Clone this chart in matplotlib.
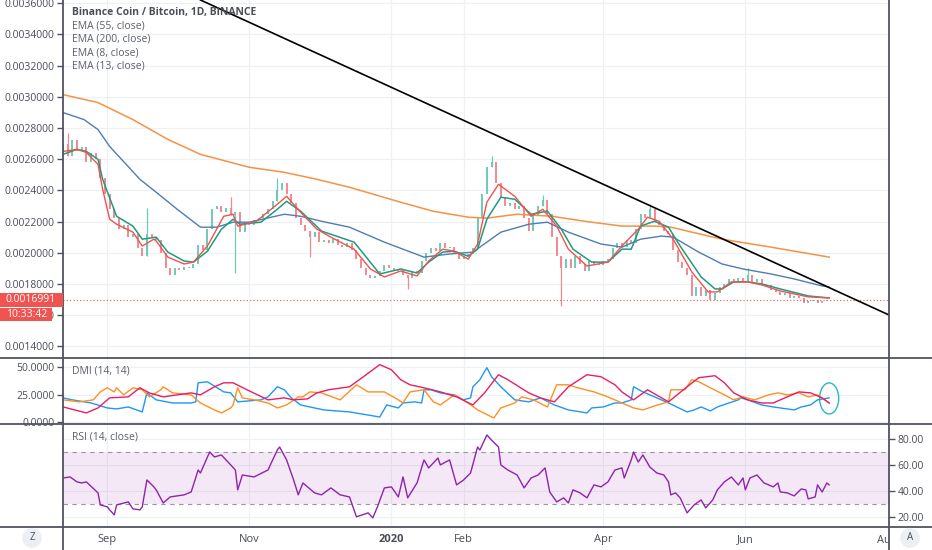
import numpy as np
import pandas as pd
import matplotlib
matplotlib.use('Agg')
import matplotlib.pyplot as plt
import matplotlib.dates as mdates
from matplotlib.patches import Ellipse, Rectangle
from matplotlib.lines import Line2D
from matplotlib.transforms import Bbox, TransformedBbox, blended_transform_factory

plt.rcParams['font.family'] = ['Open Sans', 'DejaVu Sans']

start = pd.Timestamp('2019-08-13')

# price bars, one every second day (open = previous close)
first_open = 0.00266
closes = [
    0.00270, 0.00262, 0.00272, 0.00265, 0.00268, 0.00258, 0.00264, 0.00260, 0.00248, 0.00238,
    0.00228, 0.00222, 0.00215, 0.00218, 0.00210, 0.00212, 0.00203, 0.00198, 0.00212, 0.00210,
    0.00208, 0.00200, 0.00190, 0.00186, 0.00190, 0.00189, 0.00191, 0.00190, 0.00193, 0.00205,
    0.00202, 0.00215, 0.00228, 0.00230, 0.00226, 0.00229, 0.00224, 0.00226, 0.00213, 0.00219,
    0.00218, 0.00221, 0.00222, 0.00225, 0.00228, 0.00233, 0.00240, 0.00245, 0.00238, 0.00232,
    0.00222, 0.00218, 0.00214, 0.00210, 0.00213, 0.00207, 0.00208, 0.00206, 0.00209, 0.00205,
    0.00204, 0.00206, 0.00202, 0.00196, 0.00190, 0.00186, 0.00184, 0.00185, 0.00188, 0.00192,
    0.00190, 0.00188, 0.00189, 0.00186, 0.00184, 0.00188, 0.00187, 0.00195, 0.00200, 0.00203,
    0.00201, 0.00206, 0.00203, 0.00204, 0.00200, 0.00196, 0.00198, 0.00199, 0.00203, 0.00222,
    0.00238, 0.00255, 0.00258, 0.00245, 0.00236, 0.00230, 0.00232, 0.00228, 0.00230, 0.00222,
    0.00214, 0.00224, 0.00230, 0.00234, 0.00225, 0.00210, 0.00198, 0.00190, 0.00196, 0.00190,
    0.00198, 0.00193, 0.00188, 0.00195, 0.00193, 0.00192, 0.00195, 0.00196, 0.00203, 0.00206,
    0.00204, 0.00208, 0.00206, 0.00215, 0.00225, 0.00222, 0.00228, 0.00220, 0.00218, 0.00214,
    0.00212, 0.00202, 0.00194, 0.00190, 0.00186, 0.00172, 0.00178, 0.00172, 0.00176, 0.00170,
    0.00174, 0.00178, 0.00180, 0.00183, 0.00182, 0.00184, 0.00182, 0.00186, 0.00181, 0.00183,
    0.00180, 0.00179, 0.00176, 0.00175, 0.00173, 0.00174, 0.00171, 0.00172, 0.00171, 0.00168,
    0.00169, 0.00170, 0.00168, 0.00169, 0.00170]
wick_idx = [1, 18, 36, 37, 46, 53, 74, 92, 103, 107, 126, 147]
wick_end = [0.00277, 0.00229, 0.00236, 0.00187, 0.00248, 0.00197, 0.00177, 0.00262,
            0.00237, 0.00166, 0.00231, 0.00190]
last_price = 0.0016991

# moving averages (day offset from start, value)
ema200_days = [0, 15, 30, 45, 59, 80, 95, 109, 123, 145, 159, 174, 182, 195, 210, 224, 240,
               254, 261, 283, 304, 329]
ema200 = [0.003014, 0.002963, 0.002854, 0.002727, 0.002631, 0.002548, 0.002516, 0.002471,
          0.002420, 0.002324, 0.002266, 0.002228, 0.002222, 0.002247, 0.002234, 0.002202,
          0.002171, 0.002171, 0.002164, 0.002087, 0.002036, 0.001972]
ema55_days = [0, 9, 15, 20, 33, 40, 49, 59, 66, 73, 80, 95, 102, 111, 123, 138, 155, 166, 176,
              188, 200, 208, 217, 231, 240, 248, 257, 262, 273, 283, 292, 304, 314, 326, 329]
ema55 = [0.002899, 0.002854, 0.002790, 0.002682, 0.002471, 0.002388, 0.002279, 0.002164,
         0.002164, 0.002196, 0.002196, 0.002247, 0.002234, 0.002202, 0.002164, 0.002068,
         0.001972, 0.001992, 0.002004, 0.002132, 0.002183, 0.002196, 0.002132, 0.002056,
         0.002036, 0.002087, 0.002107, 0.002100, 0.002004, 0.001928, 0.001896, 0.001864,
         0.001832, 0.001787, 0.001781]
ema13_days = [0, 6, 10, 15, 17, 23, 30, 34, 40, 45, 52, 56, 62, 68, 73, 76, 85, 92, 96, 102,
              111, 125, 136, 145, 152, 157, 163, 168, 174, 178, 182, 188, 194, 201, 208, 214,
              219, 227, 234, 240, 244, 248, 254, 260, 265, 274, 280, 283, 288, 294, 300, 308,
              320, 329]
ema13 = [0.002631, 0.002663, 0.002650, 0.002599, 0.002471, 0.002234, 0.002171, 0.002087,
         0.002100, 0.002004, 0.001947, 0.001940, 0.002010, 0.002151, 0.002215, 0.002183,
         0.002196, 0.002279, 0.002330, 0.002267, 0.002139, 0.002068, 0.001864, 0.001896,
         0.001870, 0.001940, 0.002004, 0.002010, 0.001978, 0.002023, 0.002215, 0.002356,
         0.002343, 0.002247, 0.002267, 0.002151, 0.002023, 0.001940, 0.001940, 0.002023,
         0.002023, 0.002171, 0.002202, 0.002164, 0.002043, 0.001845, 0.001768, 0.001768,
         0.001813, 0.001813, 0.001800, 0.001768, 0.001723, 0.001710]
ema8_days = [0, 6, 10, 15, 17, 20, 23, 30, 34, 39, 40, 45, 52, 56, 62, 69, 73, 75, 83, 92,
             96, 102, 109, 115, 125, 132, 138, 145, 152, 157, 163, 168, 174, 178, 182, 187,
             194, 201, 206, 212, 217, 225, 234, 240, 247, 251, 256, 262, 270, 277, 281, 287,
             294, 300, 308, 320, 329]
ema8 = [0.002650, 0.002663, 0.002643, 0.002567, 0.002407, 0.002215, 0.002183, 0.002132,
        0.002043, 0.002087, 0.002075, 0.001972, 0.001928, 0.001940, 0.002043, 0.002234,
        0.002247, 0.002171, 0.002202, 0.002311, 0.002362, 0.002260, 0.002151, 0.002100,
        0.002023, 0.001896, 0.001845, 0.001883, 0.001851, 0.001947, 0.002023, 0.002010,
        0.001959, 0.002055, 0.002324, 0.002439, 0.002362, 0.002234, 0.002279, 0.002171,
        0.002023, 0.001915, 0.001940, 0.002043, 0.002151, 0.002228, 0.002202, 0.002087,
        0.001877, 0.001749, 0.001749, 0.001813, 0.001813, 0.001794, 0.001755, 0.001717,
        0.001710]
trend_days = [59, 356]
trend_price = [0.003621, 0.001592]

# DMI (14, 14)
pdi_days = [0, 4, 12, 19, 23, 28, 34, 36, 40, 47, 55, 57, 58, 62, 69, 72, 75, 85, 88, 92,
            95, 98, 102, 112, 123, 131, 136, 139, 144, 146, 151, 154, 155, 158, 162, 168,
            172, 175, 176, 179, 182, 184, 188, 194, 200, 205, 211, 217, 225, 227, 232, 237,
            240, 244, 245, 249, 254, 260, 268, 271, 274, 278, 281, 286, 290, 291, 294, 300,
            305, 311, 314, 317, 321, 324, 329]
pdi = [22.1, 20.3, 17.5, 13.0, 12.1, 13.9, 9.4, 26.6, 20.3, 17.5, 17.5, 18.5, 35.7, 36.6,
       27.5, 26.6, 18.5, 20.3, 23.0, 32.1, 29.4, 22.1, 15.7, 11.2, 9.4, 6.6, 4.8, 15.7, 13.0,
       17.5, 18.5, 17.5, 29.4, 29.4, 26.6, 24.8, 20.3, 22.1, 32.1, 38.5, 49.4, 41.2, 32.1,
       20.3, 18.5, 22.1, 15.7, 11.2, 8.5, 13.0, 13.9, 17.5, 17.5, 20.3, 32.1, 27.5, 23.0,
       17.5, 9.4, 11.2, 13.9, 10.3, 13.9, 17.5, 20.3, 22.1, 20.3, 15.7, 13.9, 12.1, 11.2,
       13.9, 15.7, 20.3, 22.1]
mdi_days = [0, 7, 13, 16, 19, 22, 23, 26, 30, 34, 37, 42, 43, 47, 55, 59, 65, 68, 72, 73,
            75, 77, 82, 88, 92, 96, 101, 103, 106, 111, 119, 126, 131, 138, 144, 146, 149,
            155, 159, 162, 168, 174, 178, 185, 188, 194, 197, 202, 208, 212, 217, 221, 228,
            234, 240, 245, 249, 254, 260, 261, 267, 270, 273, 278, 284, 288, 292, 297, 303,
            307, 311, 316, 320, 324, 329]
mdi = [20.3, 18.5, 20.3, 27.5, 31.2, 27.5, 31.2, 24.8, 31.2, 29.4, 23.0, 29.4, 32.1, 26.6,
       24.8, 17.5, 11.2, 8.5, 13.0, 15.7, 31.2, 22.1, 20.3, 17.5, 13.0, 15.7, 23.0, 23.0,
       27.5, 26.6, 20.3, 33.9, 27.5, 27.5, 20.3, 17.5, 27.5, 29.4, 18.5, 15.7, 24.8, 17.5,
       11.2, 3.9, 13.0, 17.5, 23.0, 20.3, 13.9, 33.9, 33.9, 31.2, 27.5, 23.0, 17.5, 13.0,
       11.2, 14.8, 18.5, 29.4, 29.4, 38.5, 36.6, 31.2, 24.8, 20.3, 23.0, 20.3, 24.8, 26.6,
       24.8, 26.6, 23.0, 24.8, 17.5]
adx_days = [0, 10, 15, 20, 28, 33, 37, 43, 55, 59, 65, 69, 73, 79, 88, 95, 99, 105, 109, 114,
            123, 129, 136, 141, 145, 149, 155, 162, 169, 176, 181, 187, 191, 200, 205, 211,
            217, 225, 231, 237, 240, 245, 251, 260, 268, 273, 280, 284, 288, 294, 300, 305,
            311, 316, 321, 326, 329]
adx = [13.9, 8.5, 13.0, 22.1, 23.0, 31.2, 26.6, 23.0, 26.6, 24.8, 32.1, 35.7, 35.7, 29.4,
       20.3, 22.1, 20.3, 21.2, 26.6, 29.4, 32.1, 41.2, 52.1, 47.5, 38.5, 33.9, 31.2, 27.5,
       23.0, 15.7, 26.6, 43.0, 38.5, 26.6, 22.1, 18.5, 32.1, 43.0, 41.2, 33.9, 27.5, 20.3,
       29.4, 18.5, 32.1, 40.3, 42.1, 35.7, 26.6, 20.3, 17.5, 17.5, 23.0, 27.5, 26.6, 22.1,
       17.5]

# RSI (14, close)
rsi_days = [0, 3, 6, 8, 10, 15, 16, 19, 20, 22, 23, 28, 30, 33, 34, 36, 39, 40, 43, 46,
            52, 55, 56, 58, 59, 62, 63, 65, 68, 72, 74, 75, 77, 82, 88, 92, 93, 96, 99, 101,
            103, 108, 111, 115, 119, 123, 126, 131, 133, 135, 138, 141, 144, 146, 148, 152,
            155, 157, 161, 162, 166, 169, 172, 175, 178, 179, 182, 184, 187, 188, 191, 195,
            198, 201, 204, 207, 209, 212, 215, 217, 219, 222, 225, 228, 231, 234, 237, 240,
            241, 244, 245, 247, 249, 252, 255, 258, 260, 261, 263, 265, 268, 271, 274, 276,
            279, 281, 284, 287, 290, 292, 293, 295, 298, 301, 305, 307, 308, 311, 314, 317,
            319, 320, 323, 324, 326, 328, 329]
rsi = [50.2, 51.0, 47.2, 46.4, 47.2, 38.8, 29.6, 28.1, 25.8, 22.0, 29.6, 31.9, 26.6, 25.8,
       28.1, 48.7, 43.4, 41.1, 31.1, 35.7, 37.3, 39.5, 44.9, 56.3, 54.0, 66.3, 70.1, 66.3,
       67.8, 60.2, 56.3, 41.1, 52.5, 51.0, 56.3, 71.6, 73.9, 64.0, 48.7, 37.3, 46.4, 38.8,
       37.3, 42.6, 37.3, 35.7, 20.5, 23.5, 19.7, 28.1, 42.6, 43.4, 35.7, 51.0, 35.0, 46.4,
       64.0, 57.9, 65.5, 60.2, 64.0, 44.9, 48.7, 54.0, 73.9, 71.6, 83.1, 79.2, 73.9, 60.2,
       56.3, 52.5, 42.6, 50.2, 52.5, 57.9, 39.5, 31.9, 35.0, 31.1, 41.1, 38.8, 35.0, 44.9,
       43.4, 47.2, 56.3, 57.9, 50.2, 64.0, 70.1, 62.4, 67.8, 58.6, 54.0, 52.5, 47.2, 37.3,
       38.8, 35.0, 23.5, 29.6, 33.4, 27.3, 33.4, 41.1, 47.2, 51.0, 44.9, 50.2, 41.1, 50.2,
       52.5, 46.4, 43.4, 46.4, 39.5, 38.8, 36.5, 41.8, 41.1, 34.2, 35.7, 44.9, 39.5, 46.4,
       44.9]

month_dates = ['2019-09-01', '2019-11-01', '2020-01-01', '2020-02-01', '2020-04-01',
               '2020-06-01', '2020-08-01']
month_labels = ['Sep', 'Nov', '2020', 'Feb', 'Apr', 'Jun', 'Aug']

price_ticks = [0.0014, 0.0016, 0.0018, 0.0020, 0.0022, 0.0024, 0.0026, 0.0028, 0.0030,
               0.0032, 0.0034, 0.0036]
dmi_ticks = [0, 25, 50]
rsi_ticks = [20, 40, 60, 80]

TXT = '#4a4e59'
EDGE = '#50535e'
GRID = '#eef0f5'
UP, DOWN = '#6fcab4', '#f2898f'

t0 = mdates.date2num(start)


def X(days):
    return t0 + np.asarray(days, dtype=float)


W, H = 932, 550
fig = plt.figure(figsize=(W / 100, H / 100), dpi=100)


def px_box(x0, y0, x1, y1):
    return [x0 / W, 1 - y1 / H, (x1 - x0) / W, (y1 - y0) / H]


ax_p = fig.add_axes(px_box(63, 0, 889, 358))
ax_d = fig.add_axes(px_box(63, 358, 889, 424), sharex=ax_p)
ax_r = fig.add_axes(px_box(63, 424, 889, 527), sharex=ax_p)

month_x = [mdates.date2num(pd.Timestamp(d)) for d in month_dates]
for ax in (ax_p, ax_d, ax_r):
    for sp in ax.spines.values():
        sp.set_visible(False)
    ax.grid(True, color=GRID, lw=0.9)
    ax.set_axisbelow(True)
    ax.tick_params(axis='y', direction='out', length=4, width=1, color=EDGE,
                   labelsize=7.5, labelcolor=TXT, pad=2)
ax_p.set_xticks(month_x[:-1])
ax_p.set_xlim(t0 - 0.03, t0 + 354.7)
for ax in (ax_p, ax_d):
    ax.tick_params(axis='x', length=0, labelbottom=False)

# --- price panel
closes_a = np.array(closes)
opens_a = np.concatenate([[first_open], closes_a[:-1]])
cd = X(np.arange(len(closes)) * 2)
up = closes_a >= opens_a
ax_p.vlines(cd[up], opens_a[up], closes_a[up], color=UP, lw=1.4, zorder=2)
ax_p.vlines(cd[~up], closes_a[~up], opens_a[~up], color=DOWN, lw=1.4, zorder=2)
for i, end in zip(wick_idx, wick_end):
    lo = min(opens_a[i], closes_a[i], end)
    hi = max(opens_a[i], closes_a[i], end)
    ax_p.vlines(cd[i], lo, hi, color=UP if up[i] else DOWN, lw=0.9, zorder=2)

ax_p.plot(X(ema200_days), ema200, color='#f59243', lw=1.1, zorder=3)
ax_p.plot(X(ema55_days), ema55, color='#4f7db3', lw=1.0, zorder=3)
ax_p.plot(X(ema13_days), ema13, color='#1f9c80', lw=1.1, zorder=4)
ax_p.plot(X(ema8_days), ema8, color='#f0524f', lw=1.0, zorder=4)
ax_p.plot(X(trend_days), trend_price, color='black', lw=1.2, zorder=5)
ax_p.axhline(last_price, color='#ef5350', ls=(0, (1, 2)), lw=0.8, zorder=3)

ax_p.set_ylim(0.001325, 0.003621)
ax_p.set_yticks(price_ticks)
ax_p.set_yticklabels(['%.7f' % v for v in price_ticks])

# --- DMI panel
ax_d.plot(X(pdi_days), pdi, color='#2196f3', lw=1.0)
ax_d.plot(X(mdi_days), mdi, color='#ff9020', lw=1.0)
ax_d.plot(X(adx_days), adx, color='#e91e63', lw=1.0)
ax_d.add_patch(Ellipse((t0 + 329, 21.6), width=8.2, height=28, fill=False,
                       ec='#2cb3d3', lw=1.0, clip_on=False))
ax_d.set_ylim(-1.5, 58.1)
ax_d.set_yticks(dmi_ticks)
ax_d.set_yticklabels(['%.4f' % v for v in dmi_ticks])

# --- RSI panel
ax_r.axhspan(30, 70, color='#9c27b0', alpha=0.1, lw=0)
for lvl in (30, 70):
    ax_r.axhline(lvl, color='#9598a1', ls=(0, (4, 4)), lw=0.8)
ax_r.plot(X(rsi_days), rsi, color='#8e24aa', lw=1.0)
ax_r.set_ylim(12.7, 91.5)
ax_r.yaxis.tick_right()
ax_r.set_yticks(rsi_ticks)
ax_r.set_yticklabels(['%.2f' % v for v in rsi_ticks])
ax_r.tick_params(axis='x', length=0, labelbottom=True, labelsize=8, labelcolor=TXT, pad=5)
ax_r.set_xticklabels(month_labels[:-1])
for lbl in ax_r.get_xticklabels():
    if lbl.get_text() == '2020':
        lbl.set_fontweight('bold')

# partially hidden last month label at the right edge
tr = blended_transform_factory(ax_r.transData, ax_r.transAxes)
aug = ax_r.text(month_x[-1], -0.127, month_labels[-1], transform=tr, ha='center',
                va='center', fontsize=8, color=TXT, clip_on=True)
aug.set_clip_box(TransformedBbox(Bbox([[0, 0], [889 / W, 1]]), fig.transFigure))

# --- panel frame
for yy in (358, 424, 527):
    fig.add_artist(Line2D([0, 1], [1 - yy / H] * 2, transform=fig.transFigure,
                          color=EDGE, lw=1.3))
for xx in (63, 889):
    fig.add_artist(Line2D([xx / W] * 2, [0, 1], transform=fig.transFigure,
                          color=EDGE, lw=1.3))

# --- legends
fig.text(72 / W, 1 - 12 / H, 'Binance Coin / Bitcoin, 1D, BINANCE', fontsize=7.5,
         fontweight='bold', color=TXT, va='center')
for k, name in enumerate(['EMA (55, close)', 'EMA (200, close)', 'EMA (8, close)',
                          'EMA (13, close)']):
    fig.text(72 / W, 1 - (26 + 13.4 * k) / H, name, fontsize=7.5, color='#5d606b',
             va='center')
fig.text(72 / W, 1 - 371 / H, 'DMI (14, 14)', fontsize=7.5, color='#5d606b', va='center')
fig.text(72 / W, 1 - 437 / H, 'RSI (14, close)', fontsize=7.5, color='#5d606b', va='center')

# --- last price tags on the left scale
yc = fig.transFigure.inverted().transform(ax_p.transData.transform((t0, last_price)))[1]
fig.patches.append(Rectangle((0, yc - 7 / H), 63 / W, 14 / H, transform=fig.transFigure,
                             fc='#f05350', ec='none', zorder=5))
fig.text(31 / W, yc, '%.7f' % last_price, color='white', fontsize=7.5, ha='center',
         va='center', zorder=6)
fig.patches.append(Rectangle((0, yc - 21 / H), 52 / W, 13 / H, transform=fig.transFigure,
                             fc='#f05350', ec='none', zorder=5))
fig.text(27 / W, yc - 14.5 / H, '10:33:42', color='white', fontsize=7.5, ha='center',
         va='center', zorder=6)

# --- corner buttons
for xx, ch in ((32, 'Z'), (910, 'A')):
    fig.text(xx / W, 1 - 538 / H, ch, fontsize=7, color=TXT, ha='center', va='center',
             bbox=dict(boxstyle='circle,pad=0.45', fc='#eceff4', ec='none'))

fig.savefig('out.png', dpi=100)
